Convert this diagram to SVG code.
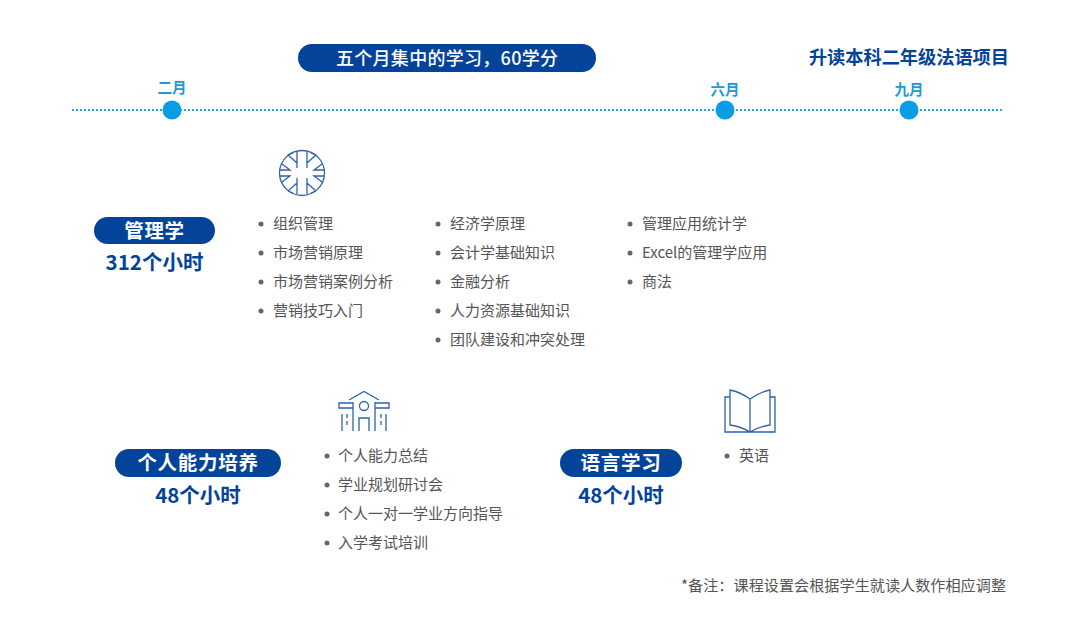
<svg xmlns="http://www.w3.org/2000/svg" width="1080" height="636" viewBox="0 0 1080 636">
<style>
text{font-family:"Noto Sans CJK SC","Noto Sans",sans-serif}
.pill{fill:#04439a}
.pt{fill:#fff;font-size:19.500px;font-weight:700;text-anchor:middle;letter-spacing:.7px}
.hrs{fill:#04439a;font-size:20.500px;font-weight:700;text-anchor:middle}
.it{fill:#555;font-size:15px}
.dot{fill:#666}
.mon{fill:#1b9ad6;font-size:14.500px;font-weight:700;text-anchor:middle}
.ms{fill:#0a9de6}
.ic{fill:none;stroke:#2f62ab;stroke-width:1.300}
</style>
<rect width="1080" height="636" fill="#fff"/>
<g id="connectors"><line x1="72" y1="110" x2="1002" y2="110" stroke="#2ba3dc" stroke-width="2" stroke-dasharray="2 2"/></g>
<g id="banner"><rect class="pill" x="298" y="44" width="298" height="28" rx="14"/><text x="447" y="64.500" text-anchor="middle" fill="#fff" font-size="18" font-weight="500" textLength="222" lengthAdjust="spacing">五个月集中的学习，60学分</text></g>
<g id="title"><text x="1009" y="64" text-anchor="end" font-size="18.200" font-weight="700" fill="#04439a">升读本科二年级法语项目</text></g>
<g id="m2"><text class="mon" x="172" y="92.500">二月</text><circle class="ms" cx="172" cy="110" r="9.500"/></g>
<g id="m6"><text class="mon" x="725" y="94.500">六月</text><circle class="ms" cx="725" cy="110" r="9.500"/></g>
<g id="m9"><text class="mon" x="909" y="94.500">九月</text><circle class="ms" cx="909" cy="110" r="9.500"/></g>
<g id="icon-flag" class="ic"><circle cx="302" cy="173" r="22.500"/><path d="M297 152V168M307 152V168M297 194V178M307 194V178M288 155L297 163M316 155L307 163M288 191L297 183M316 191L307 183M288 155L293 153M316 155L311 153M288 191L293 193M316 191L311 193M282 164L290 170H280M322 164L314 170H324M282 182L290 176H280M322 182L314 176H324"/></g>
<g id="management"><rect class="pill" x="94" y="217" width="121" height="27" rx="13.500"/><text class="pt" x="154.500" y="237.500">管理学</text><text class="hrs" x="154.500" y="270">312个小时</text>
<g class="it"><circle class="dot" cx="261" cy="224" r="2.500"/><text x="273" y="229">组织管理</text><circle class="dot" cx="261" cy="253" r="2.500"/><text x="273" y="258">市场营销原理</text><circle class="dot" cx="261" cy="282" r="2.500"/><text x="273" y="287">市场营销案例分析</text><circle class="dot" cx="261" cy="311" r="2.500"/><text x="273" y="316">营销技巧入门</text>
<circle class="dot" cx="438" cy="224" r="2.500"/><text x="450" y="229">经济学原理</text><circle class="dot" cx="438" cy="253" r="2.500"/><text x="450" y="258">会计学基础知识</text><circle class="dot" cx="438" cy="282" r="2.500"/><text x="450" y="287">金融分析</text><circle class="dot" cx="438" cy="311" r="2.500"/><text x="450" y="316">人力资源基础知识</text><circle class="dot" cx="438" cy="340" r="2.500"/><text x="450" y="345">团队建设和冲突处理</text>
<circle class="dot" cx="630" cy="224" r="2.500"/><text x="642" y="229">管理应用统计学</text><circle class="dot" cx="630" cy="253" r="2.500"/><text x="642" y="258">Excel的管理学应用</text><circle class="dot" cx="630" cy="282" r="2.500"/><text x="642" y="287">商法</text></g></g>
<g id="icon-school" class="ic"><path d="M349 400L364 391.500L379 400M353 402V431M375 402V431M339 408H353V403H339ZM375 403H389V408H375ZM342 414V431M386 414V431M347 414V418M347 421V425M381 414V418M381 421V425M359 431V418H369V431"/><circle cx="364" cy="406" r="4.500"/></g>
<g id="personal"><rect class="pill" x="115" y="449" width="166" height="28" rx="14"/><text class="pt" x="198" y="469.500">个人能力培养</text><text class="hrs" x="198" y="502.500">48个小时</text>
<g class="it"><circle class="dot" cx="327" cy="456" r="2.500"/><text x="338" y="461">个人能力总结</text><circle class="dot" cx="327" cy="485" r="2.500"/><text x="338" y="490">学业规划研讨会</text><circle class="dot" cx="327" cy="514" r="2.500"/><text x="338" y="519">个人一对一学业方向指导</text><circle class="dot" cx="327" cy="543" r="2.500"/><text x="338" y="548">入学考试培训</text></g></g>
<g id="icon-book" class="ic"><path d="M750 432V399C743 394 735 391 730 390V425C737 426 745 429 750 432ZM750 399C757 394 765 391 770 390V425C763 426 755 429 750 432M730 397H725V432H775V397H770"/></g>
<g id="language"><rect class="pill" x="560" y="449" width="122" height="28" rx="14"/><text class="pt" x="621" y="469.500">语言学习</text><text class="hrs" x="621" y="502.500">48个小时</text>
<g class="it"><circle class="dot" cx="727" cy="456" r="2.500"/><text x="739" y="461">英语</text></g></g>
<g id="note"><text x="1006" y="591" text-anchor="end" font-size="15.100" fill="#555" textLength="325" lengthAdjust="spacing">*备注：课程设置会根据学生就读人数作相应调整</text></g>
</svg>
